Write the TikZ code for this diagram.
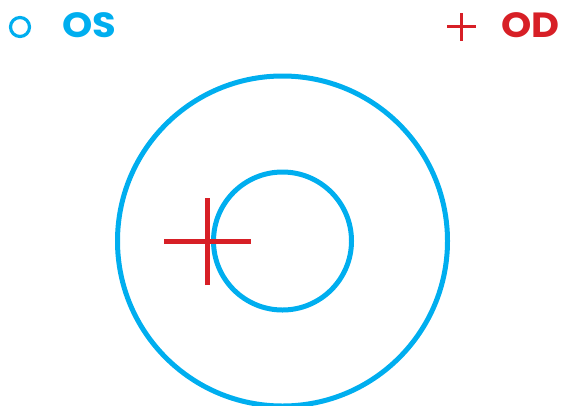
\documentclass[tikz,border=0pt]{standalone}
\usepackage{fontspec}
\setsansfont{Poppins}
\definecolor{osblue}{HTML}{00AEEF}
\definecolor{odred}{HTML}{D71F26}
\begin{document}
\begin{tikzpicture}[x=1pt, y=-1pt,
  ring/.style={draw=osblue,circle,line width=5pt,inner sep=0pt},
  crossbar/.style={odred,line width=5pt},
  legend/.style={font=\sffamily\bfseries\fontsize{35}{38}\selectfont,inner sep=0pt,xscale=1.1,transform shape}]
\useasboundingbox (0,0) rectangle (561,405);
% fields
\node[ring,minimum size=330pt] (outer) at (282.5,241) {};
\node[ring,minimum size=138pt] (inner) at (282.5,241) {};
% fixation cross
\coordinate (fix) at (207.7,241.7);
\draw[crossbar] ([xshift=-43.4pt]fix) -- ([xshift=43.3pt]fix);
\draw[crossbar] ([yshift=-43.4pt]fix) -- ([yshift=43.3pt]fix);
% legend
\node[draw=osblue,circle,line width=3.2pt,inner sep=0pt,minimum size=19pt] (osmark) at (20,27) {};
\node[legend,osblue,anchor=base west] (os) at (62.5,37.6) {OS};
\coordinate (odmark) at (461.7,26.7);
\draw[odred,line width=3pt] ([xshift=-14.4pt]odmark) -- ([xshift=14.3pt]odmark);
\draw[odred,line width=3pt] ([yshift=-14pt]odmark) -- ([yshift=14pt]odmark);
\node[legend,odred,anchor=base east] (od) at (560,37.6) {OD};
\end{tikzpicture}
\end{document}
